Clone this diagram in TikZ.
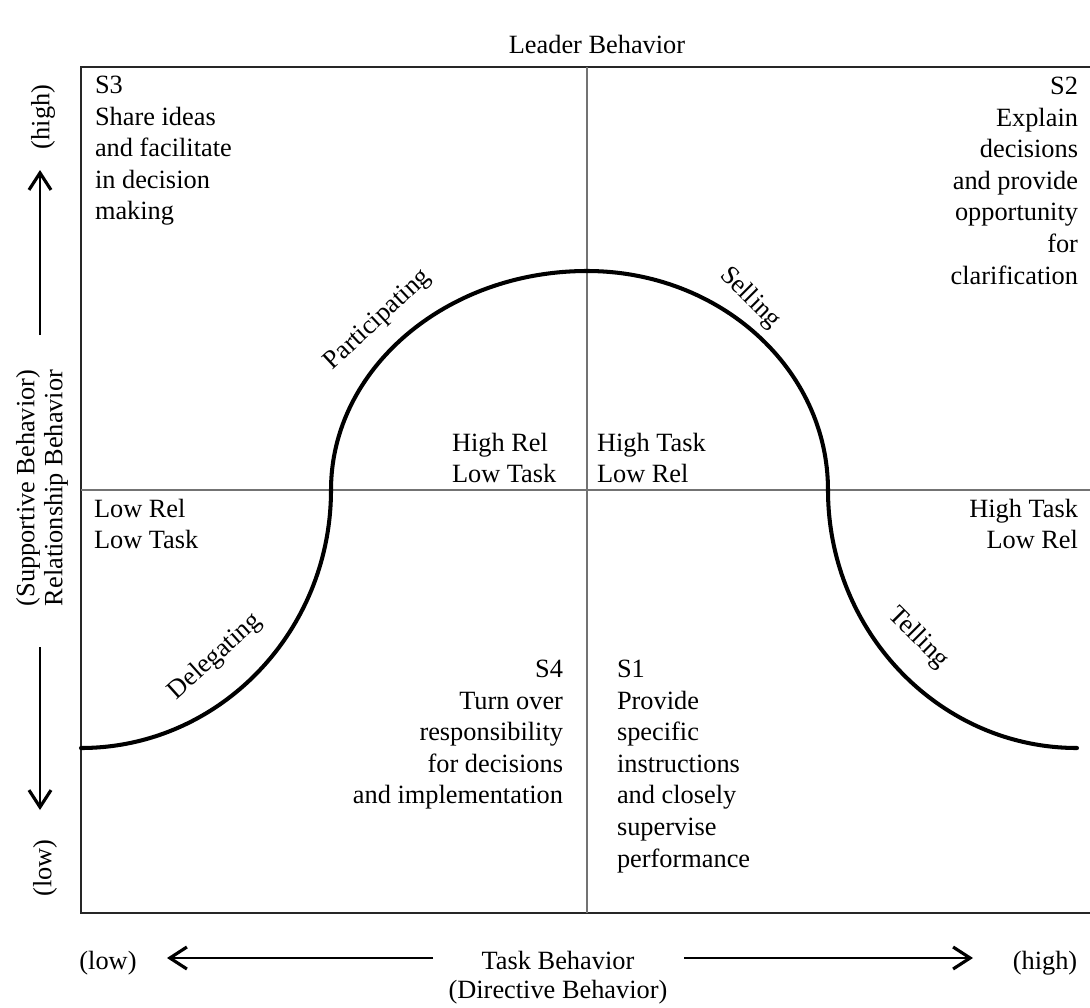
\documentclass[tikz,border=0pt]{standalone}
\usepackage{fontspec}
\setmainfont{Liberation Serif}
\usetikzlibrary{positioning, arrows.meta}
\tikzset{
    txt/.style={inner sep=0pt, outer sep=0pt, font=\fontsize{15}{18}\selectfont},
    lblock/.style={txt, anchor=north west, align=left},
    rblock/.style={txt, anchor=north east, align=right},
    frame/.style={line width=0.8pt, black!85},
    divider/.style={line width=0.8pt, black!55},
    curve/.style={line width=2.3pt, line cap=round},
    axis/.style={line width=1.4pt}
}

\begin{document}
\begin{tikzpicture}[x=0.02cm, y=-0.02cm, >={Straight Barb[length=3.4mm, width=4.4mm, line width=1.8pt]}]
  \useasboundingbox (0,0) rectangle (1090,1008);

  % frame and quadrants
  \coordinate(FTR) at (1090,67);
  \coordinate(FTL) at (81,67);
  \coordinate(FBL) at (81,913);
  \coordinate(FBR) at (1090,913);
  \coordinate(N) at (587,67);
  \coordinate(S) at (587,913);
  \coordinate(W) at (81,490);
  \coordinate(E) at (1090,490);
  \draw[frame](FTR)--(FTL)--(FBL)--(FBR);
  \draw[divider](N)--(S);
  \draw[divider](W)--(E);

  % the bell curve
  \coordinate(CL) at (81,748);
  \coordinate(CA) at (331,490);
  \coordinate(CP) at (587,271);
  \coordinate(CB) at (828,490);
  \coordinate(CR) at (1077,748);
  \draw[curve](CL) .. controls (219,748) and (331,632) .. (CA)
                   .. controls (331,369) and (446,271) .. (CP)
                   .. controls (720,271) and (828,369) .. (CB)
                   .. controls (828,632) and (940,748) .. (CR);

  \node(LB)[txt] at (597,44) {Leader Behavior};

  \node(S3)[lblock] at (95,76) {S3\\Share ideas\\and facilitate\\in decision\\making};
  \node(S2)[rblock] at (1078,77) {S2\\Explain\\decisions\\and provide\\opportunity\\for\\clarification};
  \node(HRLT)[lblock] at (452,433) {High Rel\\Low Task};
  \node(HTLR)[lblock] at (597,433) {High Task\\Low Rel};
  \node(LRLT)[lblock] at (94,499) {Low Rel\\Low Task};
  \node(HTLR2)[rblock] at (1078,499) {High Task\\Low Rel};
  \node(S4)[rblock] at (563,660) {S4\\Turn over\\responsibility\\for decisions\\and implementation};
  \node(S1)[lblock] at (617,660) {S1\\Provide\\specific\\instructions\\and closely\\supervise\\performance};

  \node(PA)[txt, rotate=43] at (378,320) {Participating};
  \node(SE)[txt, rotate=-45] at (750,298) {Selling};
  \node(DE)[txt, rotate=42] at (215,657) {Delegating};
  \node(TE)[txt, rotate=-45] at (918,638) {Telling};

  % vertical axis
  \node(RB)[txt, rotate=90, align=center] at (42,488) {(Supportive Behavior)\\[-2pt]Relationship Behavior};
  \node(YH)[txt, rotate=90] at (43,117) {(high)};
  \node(YL)[txt, rotate=90] at (45,868) {(low)};
  \coordinate(UA) at (40,335);
  \coordinate(UT) at (40,170);
  \coordinate(DA) at (40,647);
  \coordinate(DT) at (40,810);
  \draw[axis, ->](UA)--(UT);
  \draw[axis, ->](DA)--(DT);

  % horizontal axis
  \node(XL)[txt, anchor=base] at (108,969) {(low)};
  \node(XH)[txt, anchor=base] at (1045,969) {(high)};
  \node(TB)[txt, anchor=base] at (558,969) {Task Behavior};
  \node(DB)[txt, below=6pt of TB] {(Directive Behavior)};
  \coordinate(LA) at (433,958);
  \coordinate(LT) at (167,958);
  \coordinate(RA) at (684,958);
  \coordinate(RT) at (973,958);
  \draw[axis, ->](LA)--(LT);
  \draw[axis, ->](RA)--(RT);

\end{tikzpicture}
\end{document}
